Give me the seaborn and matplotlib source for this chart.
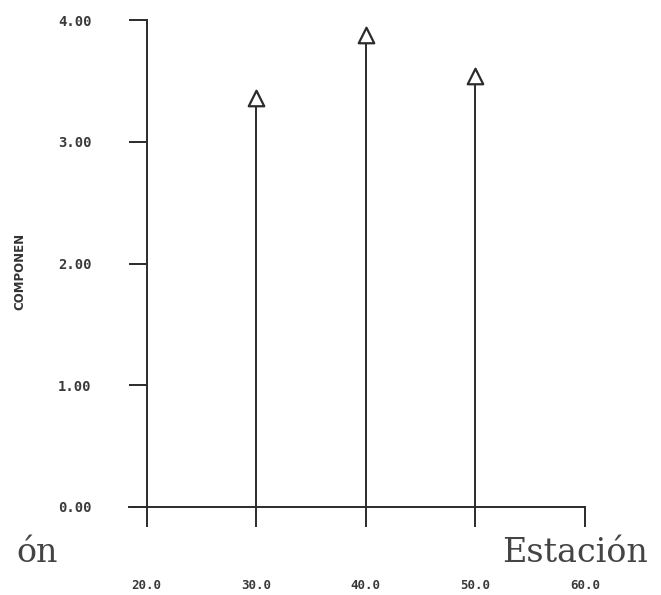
import matplotlib
matplotlib.use("Agg")
import matplotlib.pyplot as plt
import seaborn as sns

# datos
estaciones = [30, 40, 50]
componente = [3.36, 3.88, 3.54]
ticks_x = [20, 30, 40, 50, 60]
etiquetas_x = ["20.0", "30.0", "40.0", "50.0", "60.0"]
ticks_y = [0, 1, 2, 3, 4]
etiquetas_y = ["0.00", "1.00", "2.00", "3.00", "4.00"]

sns.set_style("white")
tinta = "#2b2b2b"

fig = plt.figure(figsize=(6.61, 5.95), dpi=100)
ax = fig.add_axes([129 / 661, 1 - 507 / 595, 456 / 661, 487 / 595])

# tallos y triangulos
ax.vlines(estaciones, 0, componente, color=tinta, linewidth=1.4, zorder=2)
sns.scatterplot(x=estaciones, y=componente, marker="^", s=125,
                facecolor="white", edgecolor=tinta, linewidth=1.6,
                ax=ax, zorder=3)

ax.set_xlim(18.4, 60)
ax.set_ylim(0, 4)

ax.spines["top"].set_visible(False)
ax.spines["right"].set_visible(False)
ax.spines["left"].set_position(("data", 20))
for s in ("left", "bottom"):
    ax.spines[s].set_color(tinta)
    ax.spines[s].set_linewidth(1.4)

ax.set_xticks(ticks_x)
ax.set_xticklabels(etiquetas_x, fontfamily="DejaVu Sans Mono", fontsize=9,
                   fontweight="bold", color="#3a3a3a")
ax.set_yticks(ticks_y)
ax.set_yticklabels(etiquetas_y, fontfamily="DejaVu Sans Mono", fontsize=10,
                   fontweight="bold", color="#3a3a3a")
ax.tick_params(axis="x", direction="out", length=14.5, width=1.4,
               color=tinta, pad=37, bottom=True)
ax.tick_params(axis="y", direction="out", length=13, width=1.4,
               color=tinta, pad=26.5, left=True)

fig.text(20 / 661, 1 - 271 / 595, "COMPONEN", rotation=90, fontsize=8.5,
         fontfamily="DejaVu Sans", fontweight="bold", color="#333333",
         ha="center", va="center")

fig.text(502 / 661, 1 - 562 / 595, "Estación", fontsize=24,
         fontfamily="DejaVu Serif", color="#444444", ha="left",
         va="baseline")
fig.text(58 / 661, 1 - 562 / 595, "ón", fontsize=24,
         fontfamily="DejaVu Serif", color="#444444", ha="right",
         va="baseline")

fig.savefig("out.png", dpi=100, facecolor="white")
